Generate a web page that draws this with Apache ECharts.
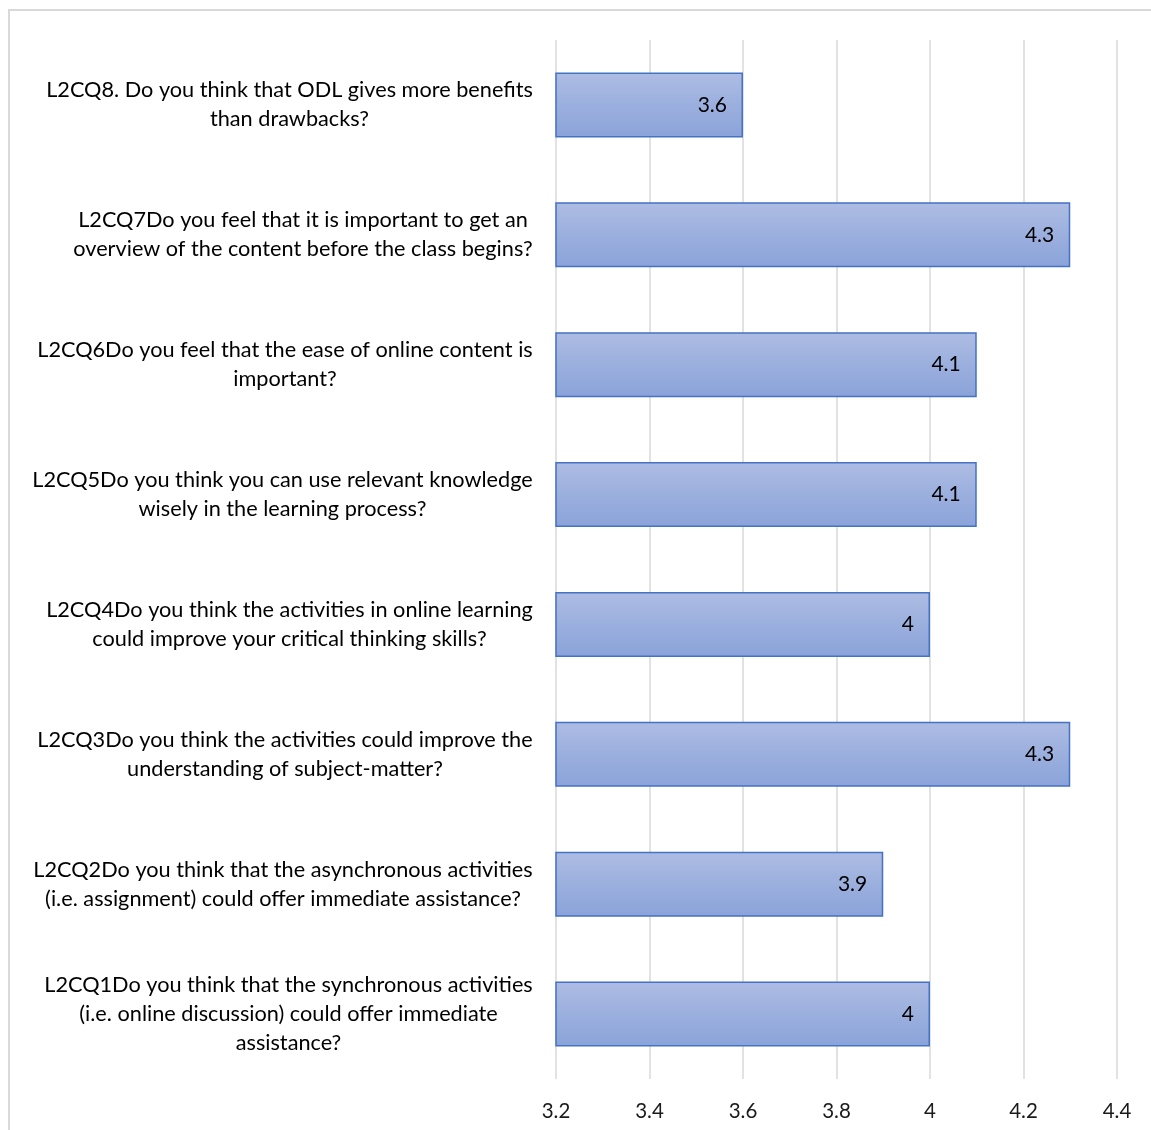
<!DOCTYPE html>
<html><head><meta charset="utf-8">
<script src="https://cdn.jsdelivr.net/npm/echarts@6/dist/echarts.min.js"></script>
<style>html,body{margin:0;padding:0;background:#fff}#c{width:1151px;height:1130px}</style>
</head><body><div id="c"></div>
<script>
// Categories listed bottom-to-top
const categories = [
  "L2CQ1Do you think that the synchronous activities\n(i.e. online discussion) could offer immediate\nassistance?",
  "L2CQ2Do you think that the asynchronous activities\n(i.e. assignment) could offer immediate assistance?",
  "L2CQ3Do you think the activities could improve the\nunderstanding of subject-matter?",
  "L2CQ4Do you think the activities in online learning\ncould improve your critical thinking skills?",
  "L2CQ5Do you think you can use relevant knowledge\nwisely in the learning process?",
  "L2CQ6Do you feel that the ease of online content is\nimportant?",
  "L2CQ7Do you feel that it is important to get an\noverview of the content before the class begins?",
  "L2CQ8. Do you think that ODL gives more benefits\nthan drawbacks?"
];
const values = [4, 3.9, 4.3, 4, 4.1, 4.1, 4.3, 3.6];
const xTicks = [3.2, 3.4, 3.6, 3.8, 4, 4.2, 4.4];

const FONT = 'Lato';
const CAT_SIZE = 21.7;
const ctx = document.createElement('canvas').getContext('2d');
ctx.font = CAT_SIZE + 'px ' + FONT;
const rich = {};
categories.forEach((c, i) => {
  const w = Math.max(...c.split('\n').map(l => ctx.measureText(l).width));
  rich['b' + i] = { width: Math.ceil(w), align: 'center', fontFamily: FONT, fontSize: CAT_SIZE, lineHeight: 29, color: '#000' };
});

const chart = echarts.init(document.getElementById('c'), null, { renderer: 'canvas' });
chart.setOption({
  animation: false,
  textStyle: { fontFamily: FONT },
  graphic: [{
    type: 'rect', shape: { x: 9, y: 10, width: 1300, height: 1300 },
    style: { fill: 'none', stroke: '#d9d9d9', lineWidth: 2 }, silent: true
  }],
  grid: { left: 556, right: 34, top: 40, bottom: 51, containLabel: false },
  xAxis: {
    type: 'value', min: xTicks[0], max: xTicks[xTicks.length - 1], interval: 0.2,
    axisLine: { show: false }, axisTick: { show: false },
    splitLine: { show: true, lineStyle: { color: '#d9d9d9', width: 1.5 } },
    axisLabel: { fontSize: 20.5, color: '#1a1a1a', margin: 22, fontFamily: FONT,
      formatter: v => String(Math.round(v * 10) / 10) }
  },
  yAxis: {
    type: 'category', data: categories,
    axisLine: { show: false }, axisTick: { show: false },
    axisLabel: {
      margin: 23, interval: 0,
      formatter: (v, idx) => v.split('\n').map(l => '{b' + idx + '|' + l + '}').join('\n'),
      rich: rich
    }
  },
  series: [{
    type: 'bar', data: values, barWidth: '50%',
    itemStyle: {
      color: new echarts.graphic.LinearGradient(0, 0, 0, 1, [
        { offset: 0, color: '#adbce3' }, { offset: 1, color: '#8aa3d9' }
      ]),
      borderColor: '#4472c4', borderWidth: 1.5
    },
    label: { show: true, position: 'insideRight', distance: 16, fontSize: 21, color: '#000', fontFamily: FONT }
  }]
});
</script></body></html>
